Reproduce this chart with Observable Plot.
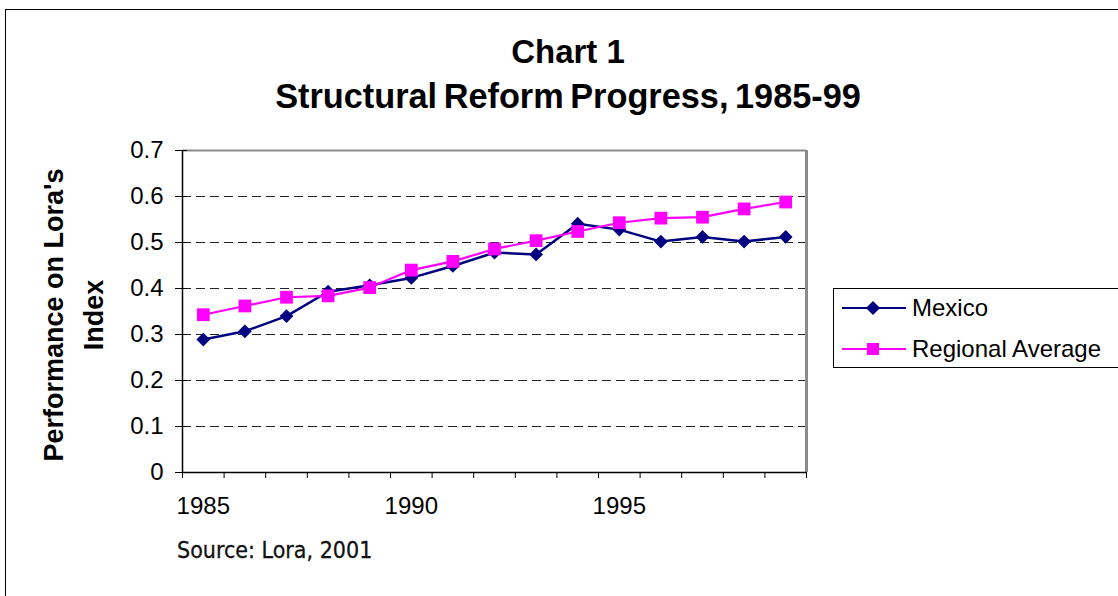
<!DOCTYPE html>
<html>
<head>
<meta charset="utf-8">
<script src="https://cdn.jsdelivr.net/npm/d3@7"></script>
<script src="https://cdn.jsdelivr.net/npm/@observablehq/plot@0.6"></script>
<style>
  html, body { margin: 0; padding: 0; background: #fff; overflow: hidden; }
  body { width: 1118px; height: 596px; position: relative; font-family: "Liberation Sans", Arial, sans-serif; }
  #frame { position: absolute; left: 5px; top: 9px; width: 1300px; height: 800px; border: 1px solid #000; box-sizing: border-box; }
  #chart { position: absolute; left: 0; top: 0; }
  #title { position: absolute; left: 0; top: 30px; width: 1136px; text-align: center; font-weight: bold; font-size: 33px; line-height: 44px; color: #000; }
  #title .l2 { font-size: 34.3px; word-spacing: -3px; }
  #ylabel { position: absolute; left: 74px; top: 315px; width: 420px; transform: translate(-50%, -50%) rotate(-90deg); text-align: center; font-weight: bold; font-size: 27px; line-height: 40px; color: #000; }
  #legend { position: absolute; left: 833px; top: 288px; width: 400px; height: 80px; border: 1px solid #000; box-sizing: border-box; background: #fff; }
  .item { position: absolute; left: 8px; height: 30px; display: flex; align-items: center; font-size: 24px; color: #000; }
  .item svg { margin-right: 6px; }
  #source { position: absolute; left: 177px; top: 537px; font-family: "DejaVu Sans Condensed", "DejaVu Sans", sans-serif; font-stretch: condensed; font-size: 23px; color: #111; -webkit-text-stroke: 0.3px #111; }
</style>
</head>
<body>
<div id="frame"></div>
<div id="chart"></div>
<div id="title">Chart 1<br><span class="l2">Structural Reform Progress, 1985-99</span></div>
<div id="ylabel">Performance on Lora's<br>Index</div>
<div id="legend"></div>
<div id="source">Source: Lora, 2001</div>
<script>
const years = [1985, 1986, 1987, 1988, 1989, 1990, 1991, 1992, 1993, 1994, 1995, 1996, 1997, 1998, 1999];
const mexico = [0.289, 0.307, 0.340, 0.393, 0.407, 0.423, 0.449, 0.478, 0.474, 0.541, 0.528, 0.502, 0.512, 0.502, 0.512];
const regional = [0.343, 0.362, 0.381, 0.384, 0.402, 0.440, 0.459, 0.486, 0.504, 0.524, 0.543, 0.553, 0.555, 0.573, 0.588];
const seriesNames = ["Mexico", "Regional Average"];
const seriesColors = ["#000080", "#FF00FF"];
const yTicks = [0, 0.1, 0.2, 0.3, 0.4, 0.5, 0.6, 0.7];
const xLabelTicks = [1985, 1990, 1995];

const mexData = years.map((y, i) => ({year: y, value: mexico[i]}));
const regData = years.map((y, i) => ({year: y, value: regional[i]}));
const boundaries = [years[0] - 0.5, ...years.map(y => y + 0.5)];
const xMin = boundaries[0], xMax = boundaries[boundaries.length - 1];
const yMax = yTicks[yTicks.length - 1];

const font = '"Liberation Sans", Arial, sans-serif';

const chart = Plot.plot({
  width: 1118,
  height: 596,
  marginLeft: 182,
  marginRight: 312,
  marginTop: 150,
  marginBottom: 124,
  style: {fontFamily: font, background: "transparent", color: "#000", overflow: "visible"},
  x: {domain: [xMin, xMax]},
  y: {domain: [0, yMax]},
  marks: [
    Plot.ruleY(yTicks.filter(d => d > 0 && d < yMax), {stroke: "#222", strokeWidth: 1.2, strokeDasharray: "9,5"}),
    Plot.ruleY([yMax], {stroke: "#8a8a8a", strokeWidth: 2}),
    Plot.ruleX([xMax], {stroke: "#8a8a8a", strokeWidth: 3}),
    Plot.ruleX([xMin], {stroke: "#000", strokeWidth: 1.5}),
    Plot.ruleY([0], {stroke: "#000", strokeWidth: 1.5}),
    Plot.axisY({ticks: yTicks, tickSize: 7, tickPadding: 12, fontSize: 24, label: null, tickFormat: d => String(d), stroke: "#000"}),
    Plot.axisY({ticks: yTicks, tickSize: -5, tickFormat: () => "", label: null, stroke: "#000"}),
    Plot.axisX({ticks: boundaries, tickSize: 6, tickFormat: () => "", label: null, stroke: "#000"}),
    Plot.axisX({ticks: xLabelTicks, tickSize: 0, tickPadding: 24, fontSize: 24, label: null, tickFormat: d => String(d)}),
    Plot.line(mexData, {x: "year", y: "value", stroke: seriesColors[0], strokeWidth: 2.5}),
    Plot.dot(mexData, {x: "year", y: "value", symbol: "diamond2", r: 6.2, fill: seriesColors[0], stroke: "none"}),
    Plot.line(regData, {x: "year", y: "value", stroke: seriesColors[1], strokeWidth: 2.2}),
    Plot.dot(regData, {x: "year", y: "value", symbol: "square", r: 7.2, fill: seriesColors[1], stroke: "none"})
  ]
});
document.getElementById("chart").appendChild(chart);

// legend
const legend = document.getElementById("legend");
seriesNames.forEach((name, i) => {
  const item = document.createElement("div");
  item.className = "item";
  item.style.top = (i === 0 ? 4 : 45) + "px";
  const marker = i === 0
    ? `<rect x="26" y="4" width="10" height="10" transform="rotate(45 31 9)" fill="${seriesColors[i]}"/>`
    : `<rect x="25" y="3" width="12" height="12" fill="${seriesColors[i]}"/>`;
  item.innerHTML = `<svg width="64" height="18" viewBox="0 0 64 18"><line x1="0" x2="64" y1="9" y2="9" stroke="${seriesColors[i]}" stroke-width="2.2"/>${marker}</svg><span>${name}</span>`;
  legend.appendChild(item);
});
</script>
</body>
</html>
